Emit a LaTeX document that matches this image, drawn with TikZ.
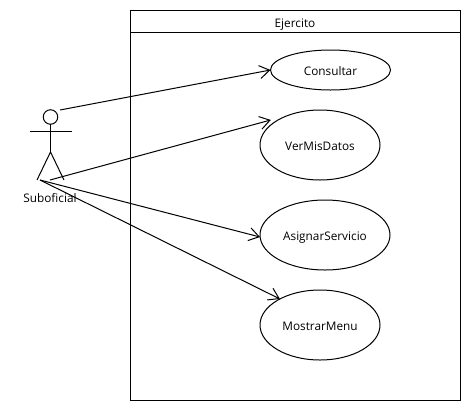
\documentclass[tikz,border=0pt]{standalone}
\usepackage{fontspec}
\setmainfont{Open Sans}
\usetikzlibrary{arrows.meta,shapes.geometric}
\tikzset{
  every picture/.style={x=1pt,y=-1pt,line width=1pt,black},
  usecase/.style={draw,ellipse,inner sep=0pt,outer sep=0pt,text height=12pt,text depth=2pt,font=\fontsize{11.8}{14}\selectfont,fill=white},
  label text/.style={inner sep=0pt,text height=12pt,text depth=2pt,font=\fontsize{11.8}{14}\selectfont},
  assoc/.style={-{Straight Barb[length=10pt,width=13pt,line width=1pt]},line width=1pt},
  framebox/.style={draw,rectangle,inner sep=0pt,outer sep=0pt,anchor=north west,minimum width=330pt,minimum height=390pt},
}
\begin{document}
\begin{tikzpicture}
\useasboundingbox (0,0) rectangle (470,410);
\fill[white] (0,0) rectangle (470,410);
% system frame
\node[framebox] (frame) at (130,10) {};
\coordinate (hl) at (130,32);
\coordinate (hr) at (460,32);
\draw (hl) -- (hr);
\node[label text] (title) at (295,22) {Ejercito};
% use cases
\node[usecase,minimum width=120pt,minimum height=40pt] (cons) at (330.5,70) {Consultar};
\node[usecase,minimum width=120pt,minimum height=70pt] (ver) at (320,145) {VerMisDatos};
\node[usecase,minimum width=130pt,minimum height=70pt] (asig) at (325,235) {AsignarServicio};
\node[usecase,minimum width=120pt,minimum height=70pt] (most) at (320,325) {MostrarMenu};
% actor
\node[draw,circle,minimum size=14.5pt,inner sep=0pt,outer sep=0pt] (head) at (50.5,117) {};
\coordinate (hip) at (50.5,152);
\coordinate (armL) at (30,131.5);
\coordinate (armR) at (71.5,131.5);
\coordinate (footL) at (37,180);
\coordinate (footR) at (64,180);
\draw (head.south) -- (hip);
\draw (armL) -- (armR);
\draw (footL) -- (hip) -- (footR);
\node[label text] (actor) at (50,197) {Suboficial};
% association starts
\coordinate (s1) at (60,110);
\coordinate (s2) at (50,180);
\coordinate (s3) at (40,180);
% associations
\draw[assoc] (s1) -- (cons.west);
\draw[assoc] (s2) -- ([shift={(-4,-2)}]ver.153);
\draw[assoc] (s3) -- ([yshift=-2pt]asig.west);
\draw[assoc] (s3) -- (most.147);
\end{tikzpicture}
\end{document}
